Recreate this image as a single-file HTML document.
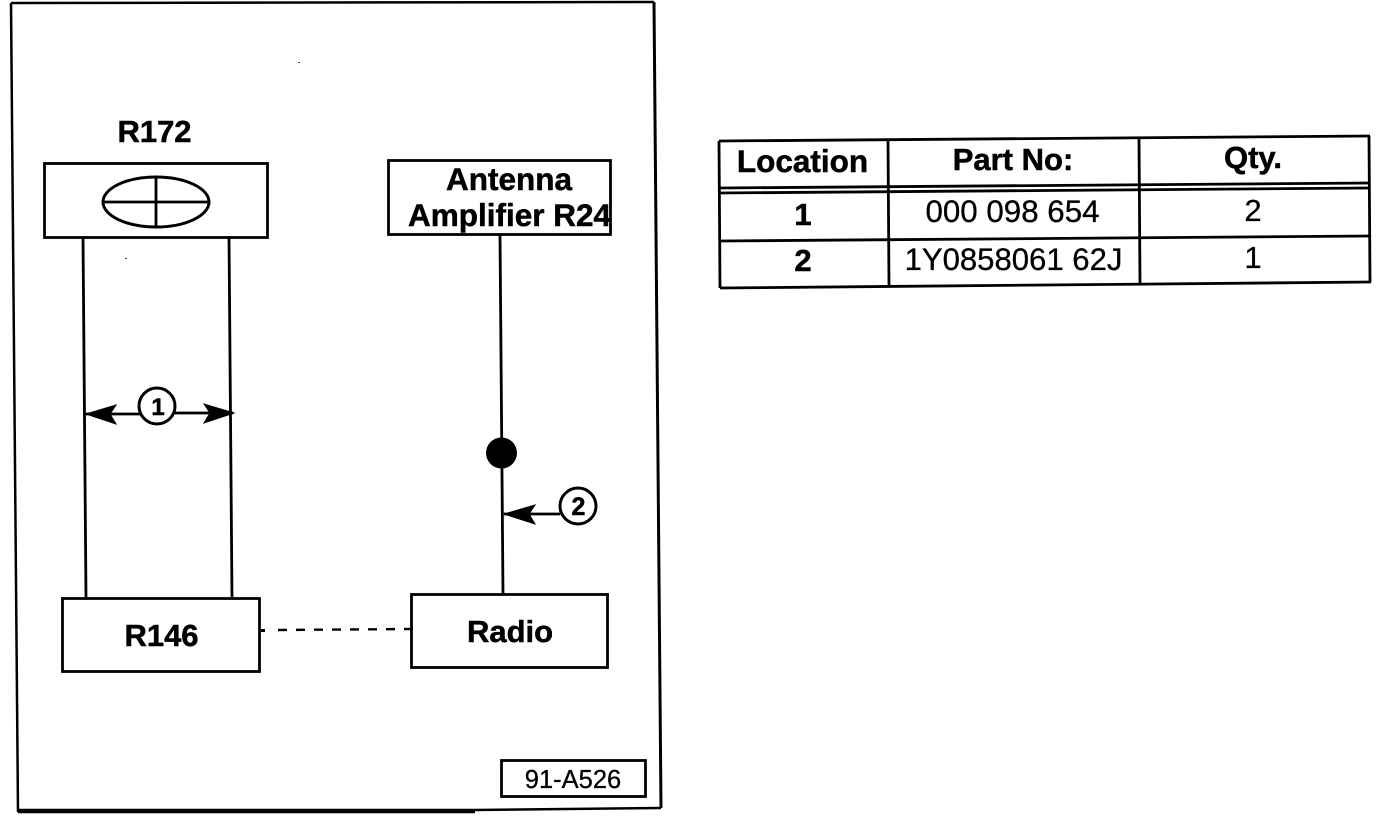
<!DOCTYPE html>
<html>
<head>
<meta charset="utf-8">
<style>
html,body{margin:0;padding:0;background:#fff;}
svg{display:block;}
text{font-family:"Liberation Sans",Arial,sans-serif;fill:#000;}
.b{font-weight:bold;stroke:#000;stroke-width:.5px;}
.r{stroke:#000;stroke-width:.3px;}
</style>
</head>
<body>
<svg width="1392" height="818" viewBox="0 0 1392 818" xmlns="http://www.w3.org/2000/svg">
<rect width="1392" height="818" fill="#fff"/>
<!-- Outer frame -->
<g fill="none" stroke="#000">
<path d="M11 3 L654 2" stroke-width="2.500"/>
<path d="M11 3 L18 812" stroke-width="2.500"/>
<path d="M654 2 L661 808" stroke-width="3"/>
<path d="M18 811 L475 811" stroke-width="4.500"/>
<path d="M475 810 L661 808" stroke-width="2.500"/>
</g>
<!-- specks -->
<rect x="298" y="62" width="2" height="1" fill="#444"/>
<rect x="125" y="258" width="2" height="1" fill="#444"/>
<!-- R172 -->
<text x="154.500" y="142" class="b" font-size="31" text-anchor="middle">R172</text>
<rect x="44.500" y="163.500" width="223" height="74" fill="none" stroke="#000" stroke-width="2.800"/>
<ellipse cx="156" cy="202" rx="53" ry="25" fill="none" stroke="#000" stroke-width="3"/>
<path d="M103 202 H209 M156 177 V227" stroke="#000" stroke-width="2.800" fill="none"/>
<!-- Antenna -->
<rect x="388.500" y="160.500" width="222" height="74" fill="none" stroke="#000" stroke-width="2.800"/>
<text x="509" y="190" class="b" font-size="31.500" text-anchor="middle">Antenna</text>
<text x="509.500" y="226" class="b" font-size="31.500" text-anchor="middle">Amplifier R24</text>
<!-- Vertical lines -->
<path d="M83 237 L86 598 M229 237 L232 597 M500 235 L503 594" stroke="#000" stroke-width="2.800" fill="none"/>
<circle cx="501.500" cy="453" r="15.500" fill="#000"/>
<!-- callout 1 -->
<path d="M86 414 H140 M175 413 H233" stroke="#000" stroke-width="2.800" fill="none"/>
<path d="M86 414 L116 405 L110 414 L116 424 Z" fill="#000" stroke="#000"/>
<path d="M234 413 L204 404 L210 413 L204 423 Z" fill="#000" stroke="#000"/>
<circle cx="157" cy="406" r="18" fill="#fff" stroke="#000" stroke-width="3"/>
<text x="158" y="415" class="b" font-size="24" text-anchor="middle">1</text>
<!-- callout 2 -->
<path d="M504 514 H560" stroke="#000" stroke-width="2.800" fill="none"/>
<path d="M504 514 L535 505 L529 514 L535 524 Z" fill="#000" stroke="#000"/>
<circle cx="578" cy="506" r="18" fill="#fff" stroke="#000" stroke-width="3"/>
<text x="578.500" y="515" class="b" font-size="25" text-anchor="middle">2</text>
<!-- bottom boxes -->
<rect x="62.500" y="598.500" width="197" height="73" fill="none" stroke="#000" stroke-width="2.800"/>
<text x="161.500" y="646" class="b" font-size="31" text-anchor="middle">R146</text>
<rect x="411.500" y="594.500" width="196" height="73" fill="none" stroke="#000" stroke-width="2.800"/>
<text x="510" y="642" class="b" font-size="31" text-anchor="middle">Radio</text>
<path d="M278 630 L413 629" stroke="#000" stroke-width="2.400" stroke-dasharray="9 9" fill="none"/>
<rect x="261" y="629" width="4" height="3" fill="#000"/>
<!-- tag -->
<rect x="501.500" y="760.500" width="144" height="36" fill="none" stroke="#000" stroke-width="2.800"/>
<text x="573" y="788" class="r" font-size="25.500" text-anchor="middle">91-A526</text>
<!-- Table -->
<g fill="none" stroke="#000" stroke-width="2.800">
<path d="M719 141 L1370 136"/>
<path d="M719 188 L1370 183"/>
<path d="M719 193 L1370 188"/>
<path d="M720 241 L1370 236"/>
<path d="M720 288 L1371 282"/>
<path d="M719 141 L720 288"/>
<path d="M888 140 L889 286"/>
<path d="M1139 138 L1140 284"/>
<path d="M1369 136 L1370 282"/>
</g>
<text x="802.500" y="172" class="b" font-size="31.500" text-anchor="middle">Location</text>
<text x="1013" y="170" class="b" font-size="31" text-anchor="middle">Part No:</text>
<text x="1253" y="168" class="b" font-size="31" text-anchor="middle">Qty.</text>
<text x="803" y="225" class="b" font-size="31" text-anchor="middle">1</text>
<text x="1012.500" y="222" class="r" font-size="31.300" text-anchor="middle">000 098 654</text>
<text x="1253" y="221" class="r" font-size="31" text-anchor="middle">2</text>
<text x="803" y="271" class="b" font-size="31" text-anchor="middle">2</text>
<text x="1013.500" y="270" class="r" font-size="31.100" text-anchor="middle">1Y0858061 62J</text>
<text x="1253" y="268" class="r" font-size="31" text-anchor="middle">1</text>
</svg>
</body>
</html>
